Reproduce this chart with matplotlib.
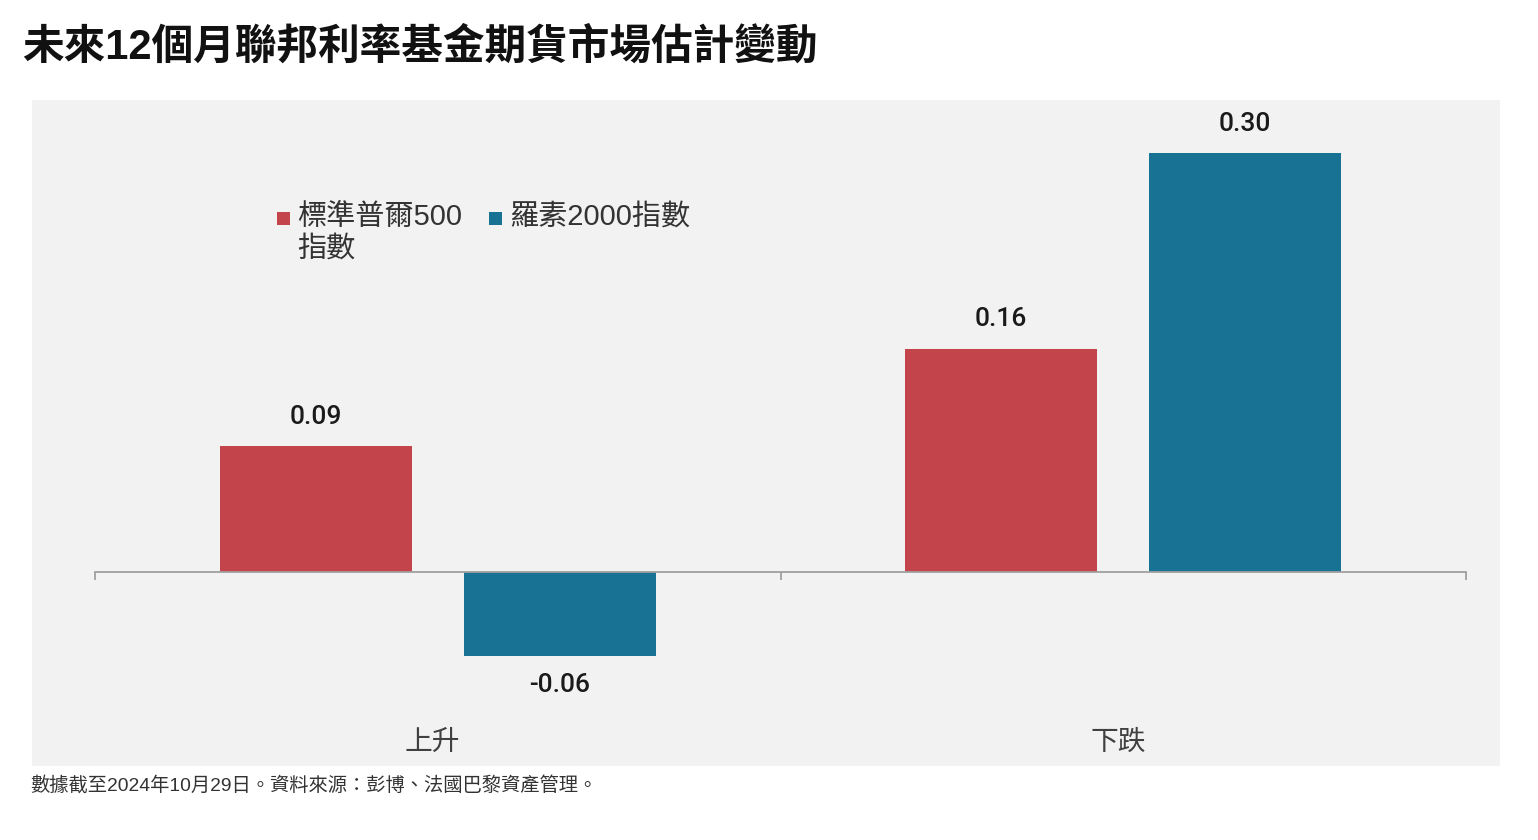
import numpy as np
import matplotlib.pyplot as plt
from matplotlib.patches import Rectangle
from matplotlib.transforms import blended_transform_factory

plt.rcParams['font.family'] = ['Liberation Sans', 'Noto Sans CJK TC', 'DejaVu Sans']

categories = ['上升', '下跌']
series_names = ['標準普爾500\n指數', '羅素2000指數']
sp500 = [0.09, 0.16]
russell = [-0.06, 0.30]
colors = ['#C4444B', '#177293']

W, H = 1538, 840
fig = plt.figure(figsize=(W / 100, H / 100), dpi=100)
fig.patch.set_facecolor('white')

# grey panel behind the chart
fig.patches.append(Rectangle((32 / W, 1 - 766 / H), (1500 - 32) / W, (766 - 100) / H,
                             transform=fig.transFigure, facecolor='#f2f2f2',
                             edgecolor='none', zorder=-1))

ax = fig.add_axes([95 / W, 1 - 700 / H, (1466 - 95) / W, 600 / H])
ax.set_facecolor('none')

x = np.arange(len(categories))
width = 0.28
off = 0.178
b1 = ax.bar(x - off, sp500, width, color=colors[0])
b2 = ax.bar(x + off, russell, width, color=colors[1])

for bars in (b1, b2):
    for rect in bars:
        v = rect.get_height()
        cx = rect.get_x() + rect.get_width() / 2
        dy = 21 if v >= 0 else -21
        ax.annotate(f'{v:.2f}', (cx, v), xytext=(0, dy), textcoords='offset points',
                    ha='center', va='center', fontsize=19, color='#1a1a1a',
                    family=['Roboto', 'Liberation Sans'], fontweight='medium')

ax.set_xlim(-0.5, 1.5)
ax.set_ylim(-0.0916, 0.338)
for s in ['top', 'right', 'left']:
    ax.spines[s].set_visible(False)
ax.spines['bottom'].set_position(('data', 0))
ax.spines['bottom'].set_color('#a0a0a0')
ax.spines['bottom'].set_linewidth(1.3)
ax.set_yticks([])
ax.set_xticks([-0.5, 0.5, 1.5])
ax.set_xticklabels([])
ax.tick_params(axis='x', direction='out', length=6, color='#a0a0a0', width=1.3)

# category labels at bottom of panel
tr = blended_transform_factory(ax.transData, fig.transFigure)
for xi, c in zip(x, categories):
    ax.text(xi - 0.008, 1 - 743 / H, c, transform=tr, ha='center', va='center',
            fontsize=20, color='#404040')

# legend
leg_items = [(277, series_names[0]), (489, series_names[1])]
for (px, name), col in zip(leg_items, colors):
    fig.patches.append(Rectangle((px / W, 1 - 225 / H), 13 / W, 13 / H,
                                 transform=fig.transFigure, facecolor=col,
                                 edgecolor='none', zorder=3))
    fig.text((px + 20) / W, 1 - 203 / H, name, ha='left', va='top', fontsize=21,
             color='#333333', linespacing=1.15)

fig.text(22 / W, 1 - 47 / H, '未來12個月聯邦利率基金期貨市場估計變動', ha='left', va='center',
         fontsize=30, fontweight='bold', color='#111111')

fig.text(30 / W, 1 - 785 / H, '數據截至2024年10月29日。資料來源：彭博、法國巴黎資產管理。',
         ha='left', va='center', fontsize=13.9, color='#333333')

fig.savefig('out.png', dpi=100, facecolor='white')
